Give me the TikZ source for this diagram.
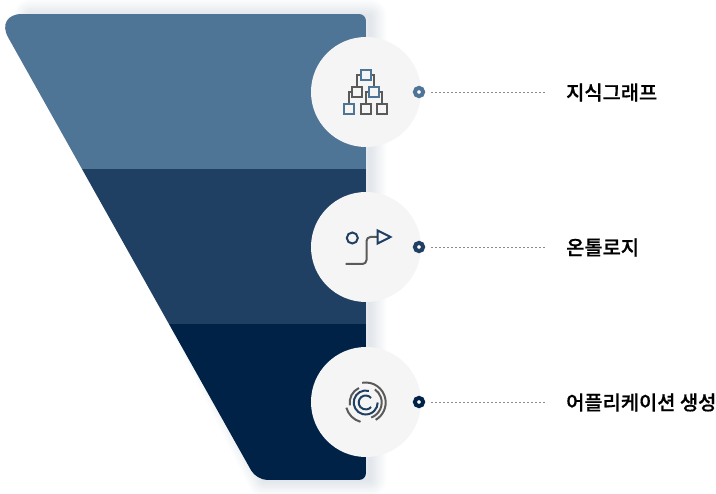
\documentclass[tikz,border=0pt]{standalone}
\usepackage{fontspec}
\newfontfamily\krfont[FakeBold=0.6]{Noto Sans CJK KR Medium}
\usetikzlibrary{positioning}
\definecolor{layerA}{HTML}{4F7596}
\definecolor{layerB}{HTML}{1F3F63}
\definecolor{layerC}{HTML}{012247}
\definecolor{iconGray}{HTML}{5A5A5A}
\tikzset{
    disc/.style={circle,fill=black!4,minimum size=110pt,inner sep=0pt},
    dot/.style={circle,draw=#1,line width=4pt,fill=white,minimum size=8.2pt,inner sep=0pt},
    lbl/.style={font=\krfont\fontsize{19.8}{22}\selectfont,anchor=west,inner sep=0pt,text=black},
    leader/.style={draw=black!45,line width=.8pt,dash pattern=on 2pt off 2pt},
    sq/.style={draw=#1,line width=2pt,fill=black!4,minimum size=10pt,inner sep=0pt},
    wire/.style={draw=iconGray,line width=2pt},
    navy/.style={draw=layerB,line width=2pt},
}
\begin{document}
\begin{tikzpicture}[x=1pt,y=-1pt]
    \useasboundingbox (0,0) rectangle (716,494);

    % shadow
    \foreach \w in {4,8,...,32}
        \draw[line width=\w pt,draw=layerB,draw opacity=.016,line join=round]
            (30,16) -- (370,16) -- (370,480) -- (264,480) -- cycle;

    % funnel
    \begin{scope}
        \clip (200,14) [rounded corners=7pt] -- (366,14) -- (366,480) [rounded corners=11pt] -- (256.5,480)
            [rounded corners=27pt] -- (-5,14) [sharp corners] -- cycle;
        \fill[layerA] (-5,14) rectangle (366,169);
        \fill[layerB] (-5,169) rectangle (366,324);
        \fill[layerC] (-5,324) rectangle (366,480);
    \end{scope}

    % circles
    \node[disc] (c1) at (366,92) {};
    \node[disc] (c2) at (366,247) {};
    \node[disc] (c3) at (366,402) {};

    % dots, leaders, labels
    \node[dot=layerA] (d1) at (419,92) {};
    \node[dot=layerB] (d2) at (419,247) {};
    \node[dot=layerC] (d3) at (419,402) {};
    \node[lbl] (t1) at (566,92.5) {지식그래프};
    \node[lbl] (t2) at (566,247.5) {온톨로지};
    \node[lbl] (t3) at (566,402.5) {어플리케이션 생성};
    \foreach \i in {1,2,3}
        \draw[leader] ([xshift=6pt]d\i.east) -- ([xshift=-19pt]d\i.east -| t\i.west);

    % tree icon
    \node[sq=layerA] (s1) at (365.7,75) {};
    \node[sq=iconGray] (s2) at (357.3,92) {};
    \node[sq=layerA] (s3) at (373.7,92) {};
    \node[sq=layerA] (s4) at (349.3,109.3) {};
    \node[sq=iconGray] (s5) at (365.7,109.3) {};
    \node[sq=iconGray] (s6) at (381.7,109.3) {};
    \draw[wire] (s1.west) -| (s2.north);
    \draw[wire] (s1.east) -| (s3.north);
    \draw[wire] (s2.west) -| (s4.north);
    \draw[wire] (s3.west) -| (s5.north);
    \draw[wire] (s3.east) -| (s6.north);

    % path icon
    \node[circle,navy,minimum size=11pt,inner sep=0pt] (p1) at (352.3,238) {};
    \coordinate (p2) at (345.7,264);
    \coordinate (p3) at (377.7,237);
    \draw[wire,rounded corners=4pt] (p2) -- (366.5,264) -- (366.5,237) -- (p3);
    \draw[navy,fill=black!4] (377.7,230.5) -- (390.5,237) -- (377.7,243.5) -- cycle;

    % cycle icon
    \coordinate (o) at (365.7,402.5);
    \foreach \r/\a/\b in {7/40/320,12/75/360}
        \draw[navy] ([shift={(\a:\r pt)}]o) arc[start angle=\a,end angle=\b,radius=\r pt];
    \foreach \r/\a/\b in {20/100/-60,20/195/255,16/115/190,16/-70/55}
        \draw[wire] ([shift={(\a:\r pt)}]o) arc[start angle=\a,end angle=\b,radius=\r pt];
\end{tikzpicture}
\end{document}
